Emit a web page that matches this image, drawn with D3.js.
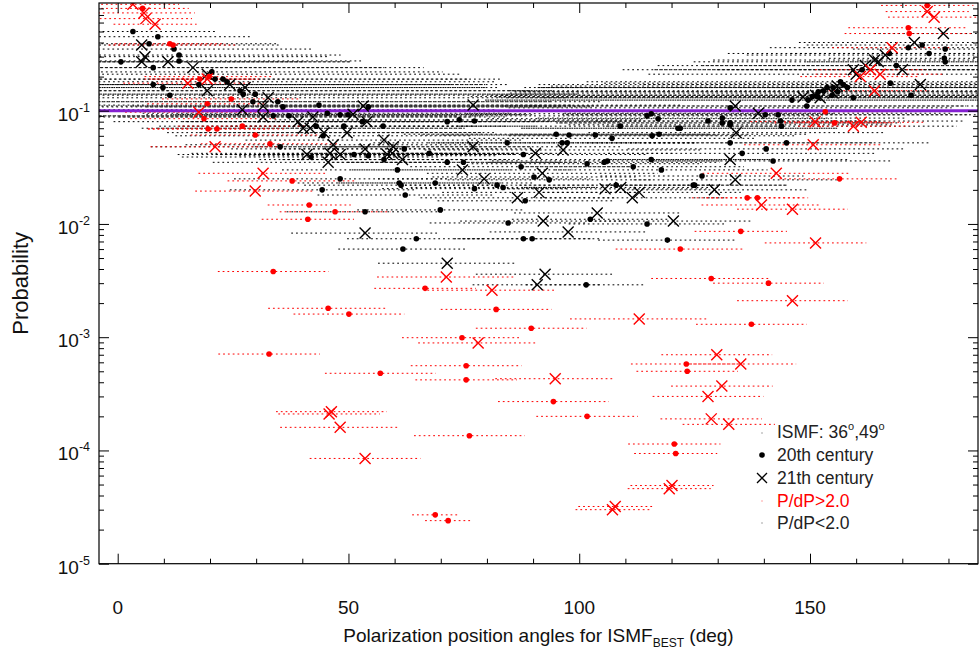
<!DOCTYPE html>
<html>
<head>
<meta charset="utf-8">
<script src="https://cdn.jsdelivr.net/npm/d3@7"></script>
<style>
  body { margin: 0; background: #fff; }
  svg { font-family: "Liberation Sans", Arial, Helvetica, sans-serif; }
</style>
</head>
<body>
<svg id="chart" width="979" height="653"></svg>
<script>
// [angle (deg), probability, half error in angle (deg)]
const redCross21 = [
  [3.3, 0.87, 10], [5.7, 0.73, 11], [6.1, 0.65, 10], [8.1, 0.58, 9], [15.2, 0.175, 14],
  [19.4, 0.19, 12], [17.6, 0.097, 16], [21.1, 0.048, 14], [31.5, 0.028, 14], [29.8, 0.0195, 13],
  [71.2, 0.0034, 15], [175.4, 0.75, 9], [176.9, 0.67, 10], [167.8, 0.36, 13], [163.1, 0.23, 12],
  [165.2, 0.21, 14], [160.9, 0.2, 13], [164.0, 0.15, 12], [151.1, 0.08, 14], [159.4, 0.073, 12],
  [161.1, 0.079, 14], [150.7, 0.05, 15], [142.7, 0.028, 16], [46.3, 0.00022, 12], [45.8, 0.00021, 11],
  [48.2, 0.00016, 13], [53.6, 8.5e-5, 12], [78.1, 0.00089, 13], [81.1, 0.0026, 14], [94.8, 0.00043, 13],
  [113, 0.00145, 15], [129.8, 0.0007, 12], [130.9, 0.00037, 11], [127.9, 0.0003, 12], [128.6, 0.00019, 11],
  [132.4, 0.00017, 10], [135, 0.00058, 12], [146.2, 0.0021, 12], [151.2, 0.0068, 11], [139.5, 0.0147, 13],
  [146.2, 0.0135, 12], [107.2, 3.0e-5, 8], [107.8, 3.2e-5, 8], [119.5, 4.6e-5, 9], [120.1, 4.9e-5, 9]
];
const redDots20 = [
  [5.4, 0.8, 10], [11.3, 0.39, 12], [12.0, 0.38, 14], [17.8, 0.19, 12], [19.8, 0.2, 14],
  [24.6, 0.127, 15], [19.4, 0.115, 13], [18.7, 0.085, 16], [27, 0.073, 14], [19.6, 0.069, 13],
  [21.5, 0.069, 15], [29.8, 0.061, 14], [33, 0.051, 15], [37.8, 0.024, 14], [41.5, 0.0147, 9],
  [41.2, 0.011, 10], [47.1, 0.0128, 12], [121.9, 0.006, 14], [175.4, 0.85, 10], [171.3, 0.54, 13],
  [171.5, 0.48, 14], [153.3, 0.098, 15], [155.3, 0.078, 13], [156.4, 0.025, 13], [136.4, 0.017, 12],
  [138.6, 0.017, 11], [33.7, 0.0038, 12], [45.6, 0.0018, 13], [50.1, 0.0016, 12], [32.8, 0.00071, 11],
  [56.9, 0.00048, 12], [66.6, 0.0027, 11], [75.5, 0.00056, 12], [75.5, 0.00042, 11], [74.6, 0.00099, 13],
  [76.2, 0.000135, 12], [82, 0.00176, 12], [89.6, 0.0012, 12], [94.4, 0.00027, 12], [101.7, 0.0002, 11],
  [68.8, 2.7e-5, 5], [71.6, 2.4e-5, 5], [123.2, 0.00058, 12], [123.4, 0.0005, 11], [120.6, 1.14e-4, 10],
  [120.9, 9.4e-5, 9], [128.6, 0.0033, 13], [137.3, 0.0013, 12], [135, 0.0086, 10], [141, 0.003, 12]
];
const blackCross21 = [
  [5.2, 0.38, 30], [5.9, 0.3, 40], [5.2, 0.27, 45], [10.9, 0.27, 40], [16.3, 0.24, 50],
  [19.4, 0.21, 55], [24.3, 0.17, 60], [19.4, 0.15, 70], [27.6, 0.16, 55], [32.6, 0.13, 65],
  [31.5, 0.11, 60], [27, 0.102, 55], [53.2, 0.11, 50], [31.5, 0.088, 45], [39.1, 0.08, 40],
  [42.3, 0.088, 42], [51, 0.093, 38], [54, 0.08, 40], [40.2, 0.07, 35], [41.7, 0.07, 33],
  [44.7, 0.064, 34], [49.7, 0.064, 32], [57.7, 0.055, 30], [59.7, 0.048, 30], [46.7, 0.05, 32],
  [41, 0.041, 28], [46, 0.042, 30], [48.2, 0.041, 27], [53.6, 0.046, 29], [58.4, 0.041, 28],
  [59.5, 0.042, 27], [45.6, 0.035, 25], [61.7, 0.037, 26], [77, 0.112, 45], [77, 0.048, 32],
  [90.5, 0.042, 30], [96.5, 0.045, 30], [74.7, 0.03, 24], [92, 0.028, 25], [79.4, 0.025, 23],
  [91.3, 0.019, 21], [86.6, 0.017, 21], [105.6, 0.0204, 22], [109, 0.021, 21], [111.5, 0.017, 20],
  [113, 0.019, 22], [103.9, 0.0125, 18], [92.2, 0.0106, 18], [120.4, 0.0106, 17], [53.6, 0.0083, 16],
  [97.6, 0.0085, 17], [71.4, 0.0045, 15], [92.6, 0.0036, 15], [90.9, 0.0029, 14],
  [178.9, 0.48, 15], [172.6, 0.4, 25], [164.8, 0.27, 40], [164, 0.28, 35], [166.3, 0.31, 30],
  [162, 0.25, 45], [159.4, 0.23, 50], [160, 0.21, 45], [170, 0.23, 40], [173.9, 0.17, 60],
  [155.9, 0.165, 62], [155, 0.143, 70], [148.5, 0.132, 66], [151.2, 0.137, 68], [152.2, 0.13, 60],
  [133.8, 0.11, 50], [138.8, 0.095, 42], [134, 0.064, 32], [132.7, 0.037, 26], [133.8, 0.0245, 22],
  [129.3, 0.02, 20]
];
const blackDots20 = [
  [3.3, 0.5, 18], [8.7, 0.45, 20], [0.7, 0.27, 40], [6.8, 0.39, 28], [12.2, 0.35, 30],
  [13.3, 0.31, 35], [13.3, 0.275, 40], [7.7, 0.24, 50], [20.4, 0.22, 50], [21.1, 0.19, 55],
  [22.8, 0.19, 60], [23.7, 0.18, 58], [7.7, 0.17, 65], [9.8, 0.16, 70], [17.6, 0.17, 62],
  [26.5, 0.15, 68], [27.2, 0.14, 72], [29.8, 0.14, 70], [34.7, 0.12, 70], [29.3, 0.12, 65],
  [11.3, 0.137, 78], [35.8, 0.108, 60], [43.6, 0.112, 55], [54.3, 0.108, 48], [45.4, 0.095, 40],
  [48.2, 0.092, 42], [49.9, 0.092, 38], [33.7, 0.09, 40], [37.1, 0.09, 42], [53, 0.08, 38],
  [71.4, 0.08, 38], [74, 0.083, 40], [77.3, 0.081, 36], [43, 0.073, 34], [49, 0.073, 35],
  [57.5, 0.073, 33], [44.5, 0.06, 32], [35.2, 0.048, 28], [41.9, 0.039, 28], [51.2, 0.041, 29],
  [54.3, 0.04, 28], [57.7, 0.037, 27], [60.6, 0.03, 25], [48.2, 0.025, 23], [61, 0.023, 22],
  [44.3, 0.02, 20], [95, 0.062, 33], [97.8, 0.061, 32], [103.5, 0.061, 33], [107.1, 0.057, 31],
  [108.9, 0.073, 35], [114.7, 0.09, 38], [115.6, 0.094, 40], [117.1, 0.085, 37], [121.4, 0.07, 34],
  [115.8, 0.06, 31], [117.3, 0.062, 32], [84.4, 0.052, 29], [96.3, 0.052, 29], [97.4, 0.052, 28],
  [62.1, 0.046, 27], [67.5, 0.042, 27], [87.9, 0.041, 27], [71.4, 0.035, 25], [74.9, 0.035, 25],
  [87.4, 0.032, 24], [105.4, 0.035, 25], [106.1, 0.036, 25], [101.7, 0.034, 25], [115.6, 0.037, 26],
  [111.7, 0.032, 24], [117.8, 0.03, 23], [90.2, 0.026, 22], [93.5, 0.0245, 22], [61.4, 0.022, 21],
  [68.8, 0.023, 21], [82.2, 0.022, 21], [83.5, 0.021, 20], [77.3, 0.0205, 20], [62.3, 0.018, 19],
  [88.3, 0.016, 19], [108, 0.022, 21], [125, 0.022, 20], [53.6, 0.0128, 17], [69.9, 0.0133, 18],
  [102.4, 0.011, 17], [84.6, 0.0102, 17], [114.7, 0.01, 17], [64.7, 0.0074, 15], [87.9, 0.0074, 15],
  [89.8, 0.0074, 15], [119.1, 0.0072, 15], [61.8, 0.006, 14], [101.5, 0.0029, 13],
  [174.3, 0.38, 25], [171.3, 0.36, 30], [175.8, 0.32, 30], [179.3, 0.35, 20], [179.3, 0.27, 30],
  [167.2, 0.32, 35], [161.3, 0.23, 45], [168.7, 0.25, 42], [167.4, 0.175, 62], [171.9, 0.137, 72],
  [153.7, 0.16, 62], [155, 0.16, 64], [156.6, 0.18, 55], [157.2, 0.17, 66], [158.1, 0.16, 70],
  [156, 0.147, 70], [154.8, 0.137, 74], [152.9, 0.15, 68], [151.8, 0.147, 64], [151.6, 0.133, 70],
  [150.5, 0.133, 74], [149.6, 0.124, 70], [146.1, 0.124, 66], [149.3, 0.11, 60], [159.4, 0.13, 75],
  [132.7, 0.106, 48], [140.3, 0.092, 44], [127.9, 0.081, 38], [131, 0.086, 40], [131, 0.078, 36],
  [132.7, 0.078, 37], [132.7, 0.075, 35], [143.1, 0.092, 46], [143.6, 0.081, 40], [143.8, 0.073, 38],
  [121.9, 0.07, 34], [132.7, 0.052, 31], [135.3, 0.042, 29], [140.5, 0.046, 30], [144.9, 0.052, 31],
  [142, 0.036, 26], [126.6, 0.0265, 22], [124.7, 0.022, 20], [179.1, 0.29, 25]
];
const ismfLevel = 0.1;
const xMajor = [0, 50, 100, 150];
const yMajorExp = [-5, -4, -3, -2, -1];
const legendItems = ["ISMF: 36", "20th century", "21th century", "P/dP>2.0", "P/dP<2.0"];

const svg = d3.select("#chart");
const pLeft = 99, pRight = 978, pTop = 3, pBottom = 563.7;

const x = d3.scaleLinear().domain([-4.05, 186.4]).range([pLeft, pRight]);
const y = d3.scaleLog().domain([1e-5, 0.893]).range([pBottom, pTop]);

svg.append("defs").append("clipPath").attr("id", "clip")
  .append("rect").attr("x", pLeft).attr("y", pTop)
  .attr("width", pRight - pLeft).attr("height", pBottom - pTop);

const plot = svg.append("g").attr("clip-path", "url(#clip)");

// dotted error bars
function bars(data, color) {
  plot.append("g").selectAll("line").data(data).enter().append("line")
    .attr("x1", d => x(d[0] - d[2])).attr("x2", d => x(d[0] + d[2]))
    .attr("y1", d => y(d[1])).attr("y2", d => y(d[1]))
    .attr("stroke", color).attr("stroke-width", 1)
    .attr("stroke-dasharray", "1.8,3");
}
bars(blackDots20, "#000");
bars(blackCross21, "#000");
bars(redDots20, "#ff0000");
bars(redCross21, "#ff0000");

// ISMF line
plot.append("line")
  .attr("x1", pLeft).attr("x2", pRight)
  .attr("y1", y(ismfLevel)).attr("y2", y(ismfLevel))
  .attr("stroke", "#8420d0").attr("stroke-width", 3);

function dots(data, color) {
  plot.append("g").selectAll("circle").data(data).enter().append("circle")
    .attr("cx", d => x(d[0])).attr("cy", d => y(d[1]))
    .attr("r", 2.8).attr("fill", color);
}
const xPath = "M-5.5,-5.5L5.5,5.5M-5.5,5.5L5.5,-5.5";
function crosses(data, color) {
  plot.append("g").selectAll("path").data(data).enter().append("path")
    .attr("d", xPath)
    .attr("transform", d => `translate(${x(d[0])},${y(d[1])})`)
    .attr("stroke", color).attr("stroke-width", 1.4).attr("fill", "none");
}
dots(blackDots20, "#000");
crosses(blackCross21, "#000");
dots(redDots20, "#ff0000");
crosses(redCross21, "#ff0000");

// axes: ticks pointing inward on all four sides
const yMinor = [];
yMajorExp.forEach(e => { for (let k = 2; k <= 9; k++) { const v = k * Math.pow(10, e); if (v < 0.893) yMinor.push(v); } });
const yMajor = yMajorExp.map(e => Math.pow(10, e));
const xMinor = d3.range(10, 190, 10).filter(v => v % 50 !== 0);

const axes = svg.append("g").attr("stroke-width", 1);
function addAxis(axis, tx, ty) {
  const g = axes.append("g").attr("transform", `translate(${tx},${ty})`).call(axis);
  g.select(".domain").remove();
  g.selectAll("text").remove();
  g.selectAll("line").attr("stroke", "#000");
}
addAxis(d3.axisLeft(y).tickValues(yMajor).tickSize(-10), pLeft, 0);
addAxis(d3.axisLeft(y).tickValues(yMinor).tickSize(-5), pLeft, 0);
addAxis(d3.axisRight(y).tickValues(yMajor).tickSize(-10), pRight, 0);
addAxis(d3.axisRight(y).tickValues(yMinor).tickSize(-5), pRight, 0);
addAxis(d3.axisBottom(x).tickValues(xMajor).tickSize(-10), 0, pBottom);
addAxis(d3.axisBottom(x).tickValues(xMinor).tickSize(-5), 0, pBottom);
addAxis(d3.axisTop(x).tickValues(xMajor).tickSize(-10), 0, pTop);
addAxis(d3.axisTop(x).tickValues(xMinor).tickSize(-5), 0, pTop);

svg.append("rect").attr("x", pLeft).attr("y", pTop)
  .attr("width", pRight - pLeft).attr("height", pBottom - pTop)
  .attr("fill", "none").attr("stroke", "#000").attr("stroke-width", 1.2);

// tick labels
const ylab = svg.append("g").attr("fill", "#111");
yMajorExp.forEach(e => {
  const t = ylab.append("text").attr("x", 90).attr("y", y(Math.pow(10, e)) + 10)
    .attr("text-anchor", "end").attr("font-size", 19);
  t.append("tspan").text("10");
  t.append("tspan").attr("dy", -9).attr("font-size", 12.5).text(String(e));
});
svg.append("g").selectAll("text").data(xMajor).enter().append("text")
  .attr("x", d => x(d)).attr("y", 614)
  .attr("text-anchor", "middle").attr("font-size", 19).attr("fill", "#111")
  .text(d => d);

// axis titles
const xt = svg.append("text").attr("x", (pLeft + pRight) / 2).attr("y", 642)
  .attr("text-anchor", "middle").attr("font-size", 19).attr("fill", "#111");
xt.append("tspan").text("Polarization position angles for ISMF");
xt.append("tspan").attr("dy", 5).attr("font-size", 12).text("BEST");
xt.append("tspan").attr("dy", -5).text(" (deg)");

svg.append("text").attr("transform", `translate(28,${(pTop + pBottom) / 2}) rotate(-90)`)
  .attr("text-anchor", "middle").attr("font-size", 22).attr("fill", "#111")
  .text("Probability");

// legend
const lg = svg.append("g").attr("font-size", 17.5);
const ly = [432, 455, 478, 501, 523];
lg.append("circle").attr("cx", 762).attr("cy", ly[0] + 1).attr("r", 0.8).attr("fill", "#999");
const t0 = lg.append("text").attr("x", 777).attr("y", ly[0] + 6).attr("fill", "#222");
t0.append("tspan").text(legendItems[0]);
t0.append("tspan").attr("dy", -8).attr("font-size", 11).text("o");
t0.append("tspan").attr("dy", 8).text(",49");
t0.append("tspan").attr("dy", -8).attr("font-size", 11).text("o");
lg.append("circle").attr("cx", 762).attr("cy", ly[1]).attr("r", 2.8).attr("fill", "#000");
lg.append("text").attr("x", 777).attr("y", ly[1] + 6).attr("fill", "#222").text(legendItems[1]);
lg.append("path").attr("d", "M-5,-5L5,5M-5,5L5,-5").attr("transform", `translate(762,${ly[2]})`)
  .attr("stroke", "#000").attr("stroke-width", 1.3);
lg.append("text").attr("x", 777).attr("y", ly[2] + 6).attr("fill", "#222").text(legendItems[2]);
lg.append("circle").attr("cx", 762).attr("cy", ly[3]).attr("r", 0.8).attr("fill", "#f99");
lg.append("text").attr("x", 777).attr("y", ly[3] + 6).attr("fill", "#ff0000").text(legendItems[3]);
lg.append("circle").attr("cx", 762).attr("cy", ly[4]).attr("r", 0.8).attr("fill", "#999");
lg.append("text").attr("x", 777).attr("y", ly[4] + 6).attr("fill", "#222").text(legendItems[4]);
</script>
</body>
</html>
